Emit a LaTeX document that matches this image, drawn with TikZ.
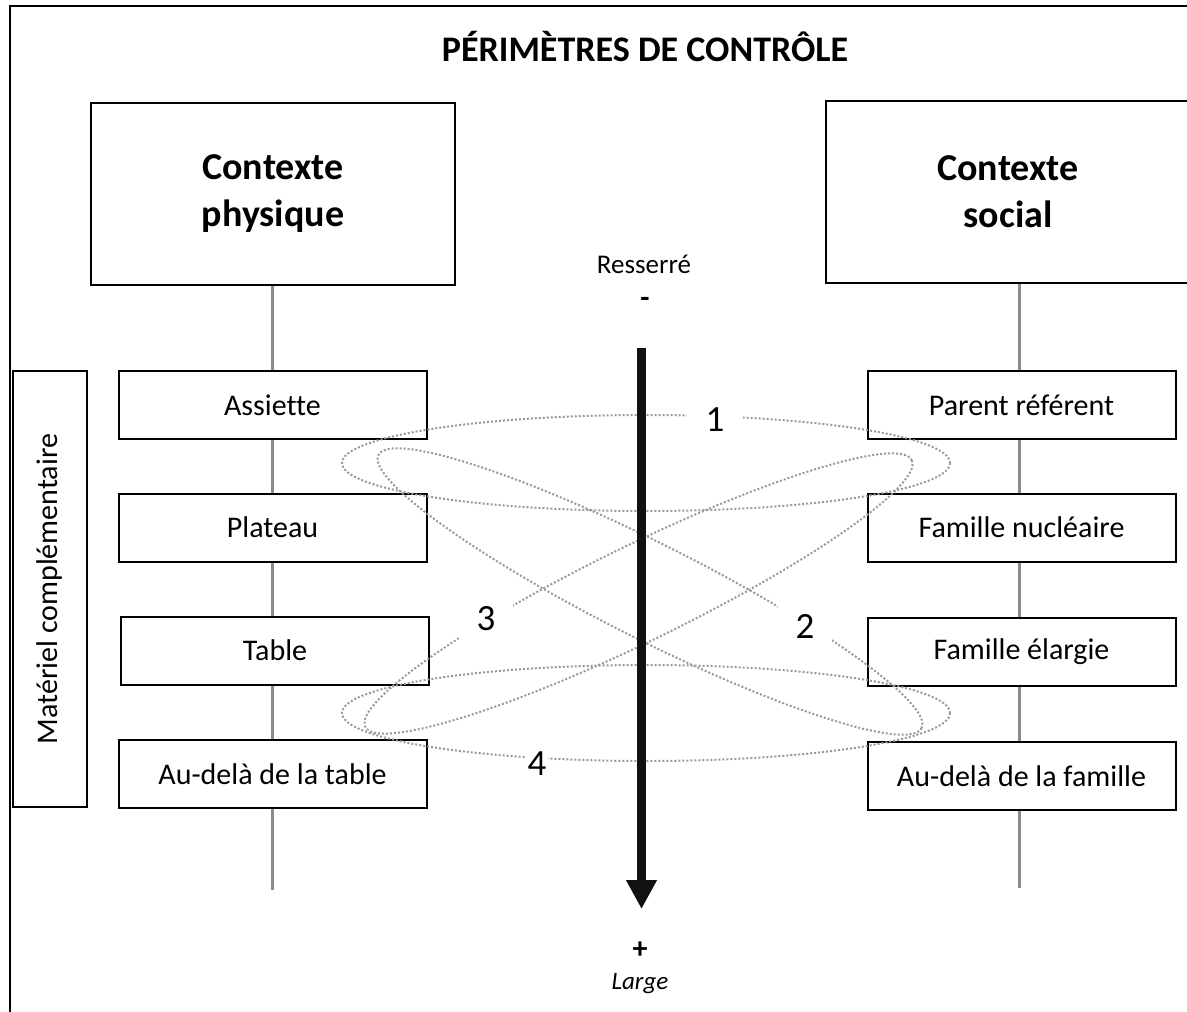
\documentclass[tikz,border=0pt]{standalone}
\usepackage{fontspec}
\setmainfont{Carlito}[Ligatures=NoCommon]
\usepackage{tikz}
\usetikzlibrary{calc,arrows.meta}
\definecolor{grisligne}{HTML}{8C8C8C}
\definecolor{grispoint}{HTML}{999999}
\definecolor{noirfleche}{HTML}{111111}
\def\mautrait{grisligne}
\def\maupoint{grispoint}
\def\maufleche{noirfleche}
\tikzset{
	boite/.style={draw,line width=2pt,fill=white,minimum width=308pt,minimum height=68pt,inner sep=0pt,font=\fontsize{30}{36}\selectfont},
	grandeboite/.style={draw,line width=2pt,fill=white,minimum width=364pt,minimum height=182pt,inner sep=0pt,align=center,font=\fontsize{38}{47}\selectfont\bfseries},
	boucle/.style={draw=\maupoint,line width=2pt,dash pattern=on 2pt off 2pt},
	numero/.style={fill=white,inner sep=0pt,font=\fontsize{37}{44}\selectfont}
}
\begin{document}
\begin{tikzpicture}[x=1pt,y=-1pt,declare function={rx=304;ry=48;}]
		\useasboundingbox (0,0) rectangle (1187,1012);
		\clip (0,0) rectangle (1187,1012);
		\draw[line width=2pt] (10,1012) |- (1187,5.5);
		\path (645,47) node (titre) [font=\fontsize{36}{40}\selectfont\bfseries] {PÉRIMÈTRES DE CONTRÔLE};
		\path (273,194) node (physique) [grandeboite] {Contexte\\physique}
		(1008,191.5) node (social) [grandeboite] {Contexte\\social};
		\path (272.5,890) coordinate (finP)
		(1019,888) coordinate (finS);
		\draw[line width=3pt,\mautrait] (physique.south -| finP) -- (finP);
		\draw[line width=3pt,\mautrait] (social.south -| finS) -- (finS);
		\path (272.5,405) node (assiette) [boite] {Assiette}
		(272.5,527.5) node (plateau) [boite] {Plateau}
		(275,650.5) node (table) [boite] {Table}
		(272.5,774) node (audelaT) [boite] {Au-delà de la table}
		(1021.5,405) node (parent) [boite] {Parent référent}
		(1021.5,527.5) node (nucleaire) [boite] {Famille nucléaire}
		(1021.5,651.5) node (elargie) [boite] {Famille élargie}
		(1021.5,776) node (audelaF) [boite] {Au-delà de la famille};
		\path (50,589) node (materiel) [draw,line width=2pt,minimum width=436pt,minimum height=74pt,inner sep=0pt,rotate=90,font=\fontsize{30}{36}\selectfont] {Matériel complémentaire};
		\draw[boucle] (646,463) ellipse [x radius=rx,y radius=ry];
		\draw[boucle,shift={(650,591.5)},rotate=-26.7] (0,0) ellipse [x radius=rx,y radius=ry];
		\draw[boucle,shift={(638.5,593.5)},rotate=26] (0,0) ellipse [x radius=rx,y radius=ry];
		\draw[boucle] (646,713) ellipse [x radius=rx,y radius=ry];
		\path (715,420) node (un) [numero,minimum width=56pt,minimum height=24pt] {1}
		(805,626) node (deux) [numero,minimum size=54pt] {2}
		(486,619) node (trois) [numero,minimum size=54pt] {3}
		(537,764) node (quatre) [numero,minimum width=22pt] {4};
		\path (644,264) node (resserre) [font=\fontsize{27}{32}\selectfont] {Resserré}
		(645,302) node (moins) [font=\fontsize{30}{36}\selectfont\bfseries] {-}
		(640,950) node (plus) [font=\fontsize{30}{36}\selectfont\bfseries] {+}
		(640,984) node (large) [font=\fontsize{25}{30}\selectfont\itshape] {Large};
		\path (641.5,348) coordinate (haut)
		(641.5,909) coordinate (bas);
		\draw[line width=9.5pt,\maufleche,-{Triangle[width=29pt,length=29pt]}] (haut) -- (bas);
	\end{tikzpicture}
\end{document}
